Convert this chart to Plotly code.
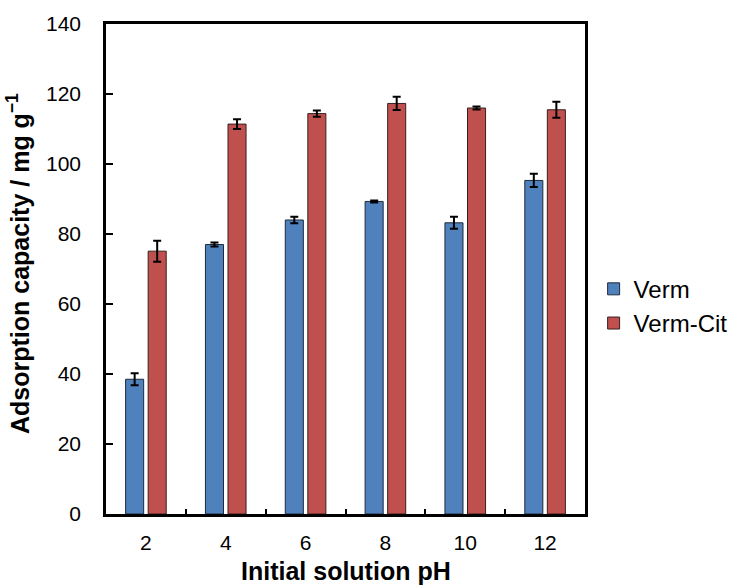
import plotly.graph_objects as go

# pH values tested
ph_labels = ["2", "4", "6", "8", "10", "12"]

# Adsorption capacity (mg/g) and standard deviations
verm = [38.5, 77.0, 84.0, 89.3, 83.2, 95.3]
verm_err = [1.7, 0.6, 0.9, 0.3, 1.7, 1.9]
verm_cit = [75.1, 111.4, 114.4, 117.3, 116.0, 115.5]
verm_cit_err = [3.0, 1.4, 0.9, 1.9, 0.4, 2.3]

font_family = "Liberation Sans, Arial, sans-serif"

fig = go.Figure()
fig.add_trace(go.Bar(
    name="Verm", x=ph_labels, y=verm,
    marker=dict(color="#4F81BD", line=dict(color="#1f2a3a", width=1)),
    error_y=dict(type="data", array=verm_err, color="black", thickness=2, width=4),
))
fig.add_trace(go.Bar(
    name="Verm-Cit", x=ph_labels, y=verm_cit,
    marker=dict(color="#C0504D", line=dict(color="#3a1f1f", width=1)),
    error_y=dict(type="data", array=verm_cit_err, color="black", thickness=2, width=4),
))

fig.update_layout(
    width=734, height=587,
    margin=dict(l=106, r=149, t=24, b=73, autoexpand=False),
    paper_bgcolor="white", plot_bgcolor="white",
    barmode="group", bargap=0.435, bargroupgap=0.2,
    font=dict(family=font_family, size=21, color="black"),
    legend=dict(x=1.018, y=0.424, xanchor="left", yanchor="middle",
                font=dict(size=24), tracegroupgap=6, itemwidth=30),
    showlegend=True,
    annotations=[
        dict(text="<b>Initial solution pH</b>", xref="paper", yref="paper",
             x=0.5, y=0, yshift=-57, xanchor="center", yanchor="middle",
             showarrow=False, font=dict(size=25)),
        dict(text="<b>Adsorption capacity / mg g<sup>\u22121</sup></b>",
             xref="paper", yref="paper", x=0, y=0.5, xshift=-88, yshift=5,
             xanchor="center", yanchor="middle", textangle=-90,
             showarrow=False, font=dict(size=25)),
    ],
)

fig.update_xaxes(
    type="category",
    showline=True, linecolor="black", linewidth=2.5, mirror=True,
    ticks="inside", tickson="boundaries", ticklen=5, tickwidth=2, tickcolor="black",
    showgrid=False, ticklabelstandoff=8,
    tickfont=dict(size=21),
)
fig.update_yaxes(
    range=[0, 140], dtick=20,
    showline=True, linecolor="black", linewidth=2.5, mirror=True,
    ticks="inside", ticklen=7, tickwidth=2, tickcolor="black",
    showgrid=False, zeroline=False, ticklabelstandoff=18,
    tickfont=dict(size=21),
)

fig.write_html("out.html")
